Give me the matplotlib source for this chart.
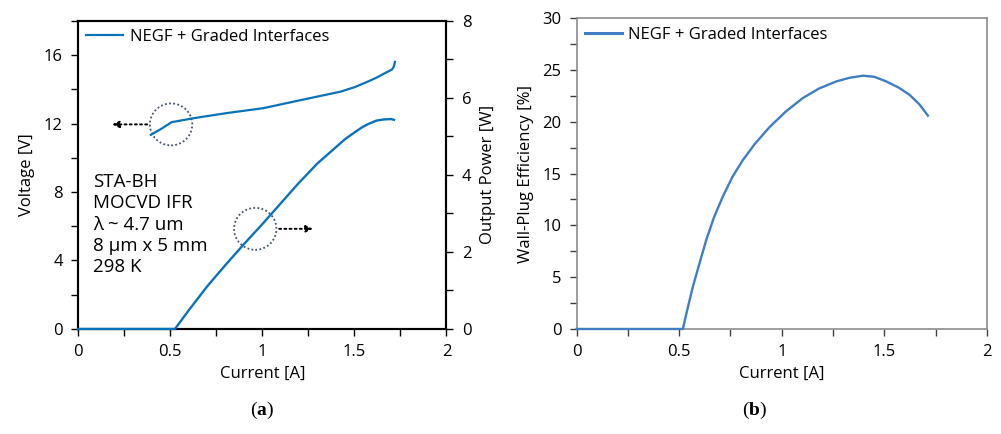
import matplotlib
matplotlib.use("Agg")
import matplotlib.pyplot as plt
from matplotlib.patches import Ellipse
from matplotlib.ticker import MultipleLocator

plt.rcParams['font.family'] = ['Open Sans', 'DejaVu Sans']
plt.rcParams['mathtext.fontset'] = 'custom'
plt.rcParams['mathtext.bf'] = 'Liberation Serif:bold'
plt.rcParams['mathtext.rm'] = 'Liberation Serif'

# voltage vs current
v_current = [0.395, 0.45, 0.508, 0.626, 0.8, 1.007, 1.2, 1.424, 1.5, 1.569, 1.62, 1.66, 1.705, 1.715, 1.72]
v_voltage = [11.34, 11.68, 12.08, 12.31, 12.6, 12.9, 13.35, 13.86, 14.12, 14.43, 14.68, 14.91, 15.16, 15.35, 15.6]

# output power vs current
p_current = [0.0, 0.526, 0.6, 0.7, 0.8, 0.9, 1.0, 1.1, 1.2, 1.3, 1.4, 1.45, 1.5, 1.54, 1.57, 1.6, 1.62, 1.66, 1.7, 1.715]
p_power = [0.0, 0.0, 0.48, 1.1, 1.66, 2.2, 2.72, 3.26, 3.8, 4.3, 4.72, 4.93, 5.1, 5.23, 5.31, 5.37, 5.41, 5.44, 5.45, 5.43]

# wall-plug efficiency vs current
w_current = [0.0, 0.518, 0.54, 0.567, 0.6, 0.632, 0.67, 0.713, 0.76, 0.81, 0.87, 0.941, 1.02, 1.103,
             1.18, 1.266, 1.33, 1.395, 1.45, 1.509, 1.57, 1.623, 1.67, 1.712]
w_eff = [0.0, 0.0, 1.9, 4.1, 6.4, 8.6, 10.8, 12.8, 14.7, 16.3, 17.9, 19.5, 21.0, 22.3,
         23.2, 23.9, 24.25, 24.45, 24.35, 23.9, 23.3, 22.6, 21.7, 20.6]

blue = '#0A72BA'
blue_b = '#3F7DC4'
circle_col = '#44546A'

fig = plt.figure(figsize=(10.01, 4.34), dpi=100)

# ---- (a) voltage and power ----
ax = fig.add_axes([0.078, 0.242, 0.368, 0.71])
ax2 = ax.twinx()
ax.plot(v_current, v_voltage, color=blue, lw=1.6, label='NEGF + Graded Interfaces')
ax2.plot(p_current, p_power, color=blue, lw=1.7, clip_on=False, zorder=5)

ax.set_xlim(0, 2)
ax.set_ylim(0, 18)
ax2.set_ylim(0, 8)
ax.xaxis.set_major_locator(MultipleLocator(0.5))
ax.xaxis.set_minor_locator(MultipleLocator(0.25))
ax.yaxis.set_major_locator(MultipleLocator(4))
ax.yaxis.set_minor_locator(MultipleLocator(2))
ax2.yaxis.set_major_locator(MultipleLocator(2))
ax2.yaxis.set_minor_locator(MultipleLocator(1))
ax.set_xticks([0, 0.5, 1, 1.5, 2], ['0', '0.5', '1', '1.5', '2'])
for a in (ax, ax2):
    for s in a.spines.values():
        s.set_linewidth(1.5)
        s.set_color('black')
    a.tick_params(which='both', labelsize=12, length=5, width=1, direction='out', pad=6)
ax.set_xlabel('Current [A]', fontsize=12)
ax.set_ylabel('Voltage [V]', fontsize=12, labelpad=6)
ax2.set_ylabel('Output Power [W]', fontsize=12, labelpad=6)
ax.legend(loc='upper left', frameon=False, fontsize=12, handlelength=2.2,
          borderaxespad=0.1, handletextpad=0.4)

ax.text(0.04, 0.505, 'STA-BH\nMOCVD IFR\nλ ~ 4.7 um\n8 μm x 5 mm\n298 K',
        transform=ax.transAxes, va='top', ha='left', fontsize=13.5, linespacing=1.22)

# dotted circles with arrows pointing to the matching axis
ax.add_patch(Ellipse((0.505, 11.95), 0.23, 2.45, fill=False, ls=(0, (1, 1.3)), lw=1.3, ec=circle_col))
ax.annotate('', xy=(0.17, 11.95), xytext=(0.39, 11.95),
            arrowprops=dict(arrowstyle='-|>', ls=':', lw=1.4, color='black', mutation_scale=10))
ax2.add_patch(Ellipse((0.962, 2.6), 0.23, 1.09, fill=False, ls=(0, (1, 1.3)), lw=1.3, ec=circle_col))
ax2.annotate('', xy=(1.29, 2.6), xytext=(1.077, 2.6),
             arrowprops=dict(arrowstyle='-|>', ls=':', lw=1.4, color='black', mutation_scale=10))

# ---- (b) wall-plug efficiency ----
bx = fig.add_axes([0.576, 0.242, 0.41, 0.716])
bx.plot(w_current, w_eff, color=blue_b, lw=1.7, clip_on=False, zorder=5)
bx.plot([], [], color=blue_b, lw=2.2, label='NEGF + Graded Interfaces')
bx.set_xlim(0, 2)
bx.set_ylim(0, 30)
bx.xaxis.set_major_locator(MultipleLocator(0.5))
bx.xaxis.set_minor_locator(MultipleLocator(0.25))
bx.yaxis.set_major_locator(MultipleLocator(5))
bx.yaxis.set_minor_locator(MultipleLocator(2.5))
bx.set_xticks([0, 0.5, 1, 1.5, 2], ['0', '0.5', '1', '1.5', '2'])
for s in bx.spines.values():
    s.set_linewidth(1.2)
    s.set_color('#8C8C8C')
bx.tick_params(which='both', labelsize=12, length=5, width=1, direction='out', pad=6, color='#404040')
bx.set_xlabel('Current [A]', fontsize=12)
bx.set_ylabel('Wall-Plug Efficiency [%]', fontsize=12, labelpad=6)
bx.legend(loc='upper left', frameon=False, fontsize=12, handlelength=2.2,
          borderaxespad=0.1, handletextpad=0.4)

fig.text(0.262, 0.045, r'($\mathbf{a}$)', ha='center', fontsize=14, family='Liberation Serif')
fig.text(0.754, 0.045, r'($\mathbf{b}$)', ha='center', fontsize=14, family='Liberation Serif')

fig.savefig('out.png', dpi=100, facecolor='white')
